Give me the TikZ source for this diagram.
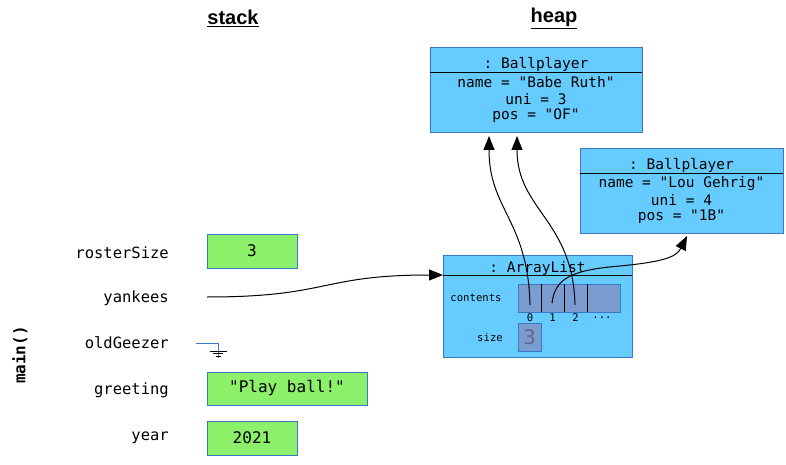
\documentclass[tikz,border=0pt]{standalone}
\usepackage{fontspec}
\setmainfont{Liberation Sans}
\setmonofont{DejaVu Sans Mono}
\newfontfamily\numfont{DejaVu Sans}
\usetikzlibrary{arrows.meta,calc}
\definecolor{heapfill}{HTML}{66CCFF}
\definecolor{boxedge}{HTML}{3C78C8}
\definecolor{cellfill}{HTML}{7A9CD0}
\definecolor{stackfill}{HTML}{8CF06A}
\tikzset{
  hdr/.style={font=\fontsize{20}{22}\selectfont\bfseries},
  varlabel/.style={anchor=east,inner sep=0pt,font=\fontsize{15.5}{17}\selectfont\ttfamily},
  valbox/.style={draw=boxedge,fill=stackfill,line width=0.8pt,inner sep=0pt,font=\fontsize{16}{18}\selectfont\ttfamily},
  objbox/.style={draw=boxedge,fill=heapfill,line width=0.8pt,inner sep=0pt},
  objtext/.style={inner sep=0pt,font=\fontsize{14.5}{16}\selectfont\ttfamily},
  smalltext/.style={inner sep=0pt,font=\fontsize{10.6}{12}\selectfont\ttfamily},
  cellbox/.style={draw=boxedge,fill=cellfill,line width=0.8pt,inner sep=0pt},
  ref/.style={line width=1pt,-{Triangle[length=14pt,width=11pt]}},
}
\begin{document}
\begin{tikzpicture}[x=1pt,y=-1pt]
\useasboundingbox (0,0) rectangle (786,465);
% headings
\node[hdr] (stackh) at (233,18) {\underline{stack}};
\node[hdr] (heaph) at (554,18) {\underline{heap}};
\node[rotate=90,font=\fontsize{16}{18}\selectfont\ttfamily\bfseries] (mainf) at (20,355) {main()};
% stack labels
\node[varlabel] (lroster) at (169,253) {rosterSize};
\node[varlabel] (lyank) at (169,298) {yankees};
\node[varlabel] (lold) at (169,343) {oldGeezer};
\node[varlabel] (lgreet) at (169,390) {greeting};
\node[varlabel] (lyear) at (169,438) {year};
% stack values
\node[valbox,minimum width=90,minimum height=34] (vroster) at (252,251) {3};
\node[valbox,minimum width=160,minimum height=33] (vgreet) at (287,388.5) {"Play ball!"};
\node[valbox,minimum width=90,minimum height=34] (vyear) at (252,438) {2021};
% null ground
\draw[boxedge,line width=0.9pt] (196,343) -- (218,343) -- (218,358);
\draw[line width=0.9pt] (210,351) -- (227,351);
\draw[line width=0.9pt] (213,353.5) -- (223,353.5);
\draw[line width=0.9pt] (215.5,356) -- (220.5,356);
% Ballplayer 1
\node[objbox,minimum width=212,minimum height=85] (bp1) at (536,89.5) {};
\draw[line width=0.8pt] (430,72) -- (642,72);
\node[objtext] (bp1h) at (536,64) {: Ballplayer};
\node[objtext] (bp1a) at (536,82) {name = "Babe Ruth"};
\node[objtext] (bp1b) at (536,99) {uni = 3};
\node[objtext] (bp1c) at (536,116) {pos = "OF"};
% Ballplayer 2
\node[objbox,minimum width=203,minimum height=85] (bp2) at (681.5,190.5) {};
\draw[line width=0.8pt] (580,173) -- (783,173);
\node[objtext] (bp2h) at (681.5,165) {: Ballplayer};
\node[objtext] (bp2a) at (681.5,184) {name = "Lou Gehrig"};
\node[objtext] (bp2b) at (681.5,200) {uni = 4};
\node[objtext] (bp2c) at (681.5,217) {pos = "1B"};
% ArrayList
\node[objbox,minimum width=189,minimum height=102] (al) at (537.5,306) {};
\draw[line width=0.8pt] (443,275) -- (632,275);
\coordinate (alin) at (443,275);
\node[objtext] (alh) at (537.5,268) {: ArrayList};
\node[smalltext] (lcont) at (476,298) {contents};
\node[smalltext] (lsize) at (490,338) {size};
\node[cellbox,minimum width=102,minimum height=28] (arr) at (569,298) {};
\draw[line width=0.8pt] (541,284) -- (541,312);
\draw[line width=0.8pt] (564,284) -- (564,312);
\draw[line width=0.8pt] (587,284) -- (587,312);
\node[smalltext] (i0) at (530,318) {0};
\node[smalltext] (i1) at (552.5,318) {1};
\node[smalltext] (i2) at (575.5,318) {2};
\node[smalltext] (i3) at (602,318) {...};
\node[cellbox,minimum width=23,minimum height=28,font=\fontsize{20}{22}\selectfont\numfont,text=black!75!blue!60] (sz) at (529.5,337) {3};
\coordinate (c0) at (530,305);
\coordinate (c1) at (552,303);
\coordinate (c2) at (575,305);
\coordinate (bp1l) at (489,136);
\coordinate (bp1r) at (517,136);
\coordinate (bp2in) at (687,236);
\coordinate (yst) at (207,297);
% references
\draw[ref] (yst) .. controls (330,297) and (320,275) .. (alin);
\draw[ref] (c0) .. controls (528,220) and (489,210) .. (bp1l);
\draw[ref] (c2) .. controls (573,220) and (517,210) .. (bp1r);
\draw[ref] (c1) .. controls (555,278) and (572,270) .. (620,266) .. controls (660,262) and (676,258) .. (bp2in);
\end{tikzpicture}
\end{document}
